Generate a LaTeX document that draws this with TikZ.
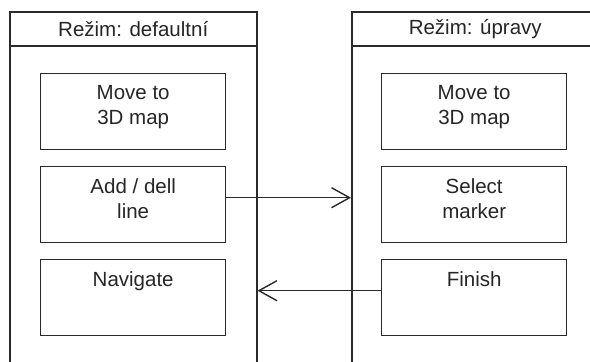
\documentclass[tikz,border=0pt]{standalone}
\usepackage{fontspec}
\setmainfont{Liberation Sans}
\usetikzlibrary{arrows.meta}
\definecolor{ln}{HTML}{2A2A2A}
\definecolor{tx}{HTML}{262626}
\newcommand\boxtext[1]{\parbox[c][76pt][t]{185pt}{\fontsize{20.5}{25}\selectfont\centering\vspace*{12pt}#1\par}}
\tikzset{
  lane/.style={draw=ln, line width=1.5pt, rectangle, minimum width=247pt, minimum height=400pt, anchor=north west, inner sep=0pt},
  hdr/.style={text=tx, font=\fontsize{20.5}{24}\selectfont, inner sep=0pt},
  box/.style={draw=ln, line width=1.4pt, rectangle, inner sep=0pt, anchor=north west, text=tx},
  conn/.style={draw=ln, line width=1.4pt, -{Straight Barb[length=18pt,width=20pt,line width=1.4pt]}}
}
\begin{document}
\begin{tikzpicture}[x=1pt,y=-1pt]
\useasboundingbox[fill=white] (0,0) rectangle (590,362);
\clip (0,0) rectangle (590,362);
\node[lane] (laneL) at (9,11) {};
\node[lane] (laneR) at (351,11) {};
\draw[ln, line width=1.5pt] ([yshift=-35pt]laneL.north west) -- ([yshift=-35pt]laneL.north east);
\draw[ln, line width=1.5pt] ([yshift=-35pt]laneR.north west) -- ([yshift=-35pt]laneR.north east);
\node[hdr] (hL) at ([yshift=-18pt]laneL.north) {Režim: defaultní};
\node[hdr] (hR) at ([yshift=-18pt]laneR.north) {Režim: úpravy};
\node[box] (l1) at (40,73) {\boxtext{Move to\\3D map}};
\node[box] (l2) at (40,166) {\boxtext{Add / dell\\line}};
\node[box] (l3) at (40,259) {\boxtext{Navigate}};
\node[box] (r1) at (381,73) {\boxtext{Move to\\3D map}};
\node[box] (r2) at (381,166) {\boxtext{Select\\marker}};
\node[box] (r3) at (381,259) {\boxtext{Finish}};
\draw[conn] ([yshift=7pt]l2.east) -- ([yshift=7pt]l2.east -| laneR.west);
\draw[conn] ([yshift=7pt]r3.west) -- ([yshift=7pt]r3.west -| laneL.east);
\end{tikzpicture}
\end{document}
